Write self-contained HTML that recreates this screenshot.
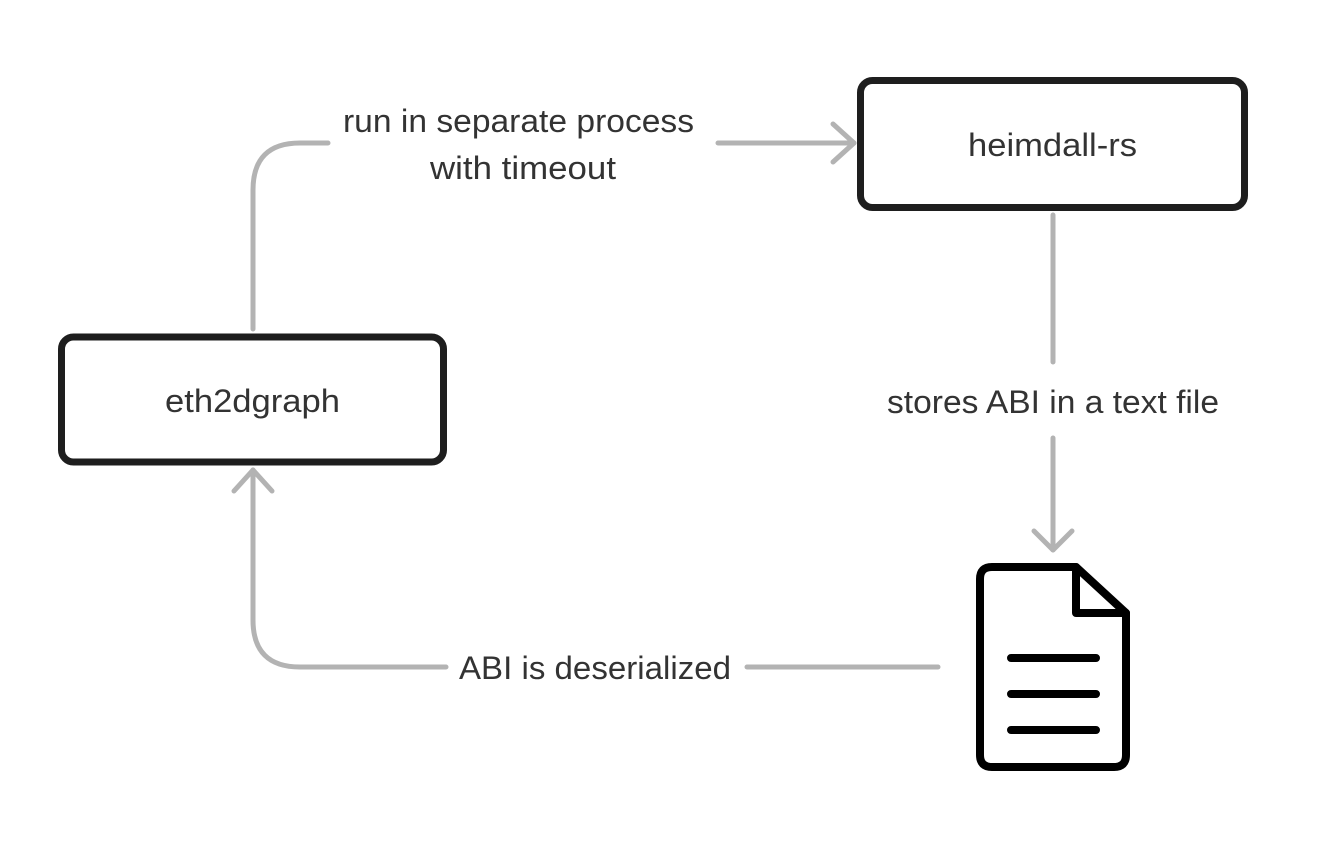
<!DOCTYPE html>
<html><head><meta charset="utf-8"><style>
html,body{margin:0;padding:0;background:#fff;}
svg{display:block;}
text{font-family:"Liberation Sans",sans-serif;font-size:32px;fill:#333;}
</style></head><body>
<svg width="1331" height="857" viewBox="0 0 1331 857" xmlns="http://www.w3.org/2000/svg">
<rect width="1331" height="857" fill="#fff"/>
<g fill="none" stroke="#b3b3b3" stroke-width="5" stroke-linecap="round" stroke-linejoin="round">
  <path d="M253 329 V190 Q253 143 300 143 H328"/>
  <path d="M718 143 H854"/>
  <path d="M833 124 L854 143 L833 162"/>
  <path d="M1053 215 V362"/>
  <path d="M1053 438 V550"/>
  <path d="M1034 531 L1053 550 L1072 531"/>
  <path d="M938 667 H747"/>
  <path d="M446 667 H300 Q253 667 253 620 V470"/>
  <path d="M234 491 L253 470 L272 491"/>
</g>
<rect x="61.5" y="337" width="382" height="125" rx="12" fill="#fff" stroke="#1e1e1e" stroke-width="7"/>
<rect x="860.5" y="80.5" width="384" height="127" rx="12" fill="#fff" stroke="#1e1e1e" stroke-width="7"/>
<g fill="none" stroke="#000" stroke-width="8" stroke-linecap="round" stroke-linejoin="round">
  <path d="M1076 567 H992 Q980 567 980 579 V755 Q980 767 992 767 H1114 Q1126 767 1126 755 V613 Z"/>
  <path d="M1076 567 V613 H1126"/>
  <path d="M1011 658 H1096 M1011 694 H1096 M1011 730 H1096"/>
</g>
<text x="343" y="132" textLength="351" lengthAdjust="spacingAndGlyphs">run in separate process</text>
<text x="430" y="179" textLength="186" lengthAdjust="spacingAndGlyphs">with timeout</text>
<text x="968" y="156" textLength="169" lengthAdjust="spacingAndGlyphs">heimdall-rs</text>
<text x="165" y="412" textLength="175" lengthAdjust="spacingAndGlyphs">eth2dgraph</text>
<text x="887" y="413" textLength="332" lengthAdjust="spacingAndGlyphs">stores ABI in a text file</text>
<text x="459" y="679" textLength="272" lengthAdjust="spacingAndGlyphs">ABI is deserialized</text>
</svg>
</body></html>
